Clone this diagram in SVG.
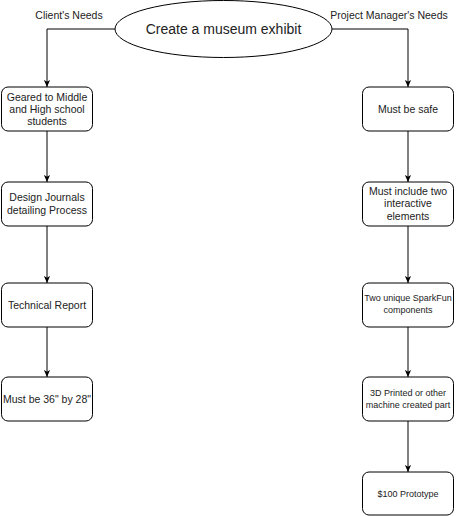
<svg xmlns="http://www.w3.org/2000/svg" width="456" height="516" viewBox="0 0 456 516">
<style>
  .box { fill: #ffffff; stroke: #000000; stroke-width: 1; }
  .t { font-family: "Liberation Sans", Arial, sans-serif; font-size: 10.5px; fill: #222222; text-anchor: middle; }
  .s { font-size: 9px; }
  .title { font-size: 14px; }
  .edge { fill: none; stroke: #000000; stroke-width: 1; marker-end: url(#arr); }
</style>
<defs>
  <marker id="arr" viewBox="0 0 8 8" refX="8" refY="4" markerWidth="7" markerHeight="7" markerUnits="userSpaceOnUse" orient="auto">
    <path d="M0,0.5 L8,4 L0,7.5 L2,4 Z" fill="#000000"/>
  </marker>
</defs>
<rect width="456" height="516" fill="#ffffff"/>

<g id="labels">
  <text class="t" x="69" y="19">Client's Needs</text>
  <text class="t" x="389" y="19">Project Manager's Needs</text>
</g>

<g id="connectors">
  <path class="edge" d="M115,29 H47 V87"/>
  <path class="edge" d="M332,29 H408 V87"/>
  <path class="edge" d="M47,131 V182"/>
  <path class="edge" d="M47,226 V283"/>
  <path class="edge" d="M47,327 V377"/>
  <path class="edge" d="M408,131 V182"/>
  <path class="edge" d="M408,226 V283"/>
  <path class="edge" d="M408,327 V377"/>
  <path class="edge" d="M408,421 V472"/>
</g>

<g id="root">
  <ellipse class="box" cx="223.5" cy="29" rx="108.5" ry="28.5"/>
  <text class="t title" x="223.5" y="34">Create a museum exhibit</text>
</g>

<g id="c1">
  <rect class="box" x="1.5" y="87" width="91" height="44" rx="6.5"/>
  <text class="t" x="47" y="101">Geared to Middle</text>
  <text class="t" x="47" y="113">and High school</text>
  <text class="t" x="47" y="125">students</text>
</g>
<g id="c2">
  <rect class="box" x="1.5" y="182" width="91" height="44" rx="6.5"/>
  <text class="t" x="47" y="200.5">Design Journals</text>
  <text class="t" x="47" y="213.5">detailing Process</text>
</g>
<g id="c3">
  <rect class="box" x="1.5" y="283" width="91" height="44" rx="6.5"/>
  <text class="t" x="47" y="308.5">Technical Report</text>
</g>
<g id="c4">
  <rect class="box" x="1.5" y="377" width="91" height="44" rx="6.5"/>
  <text class="t" x="47" y="402.5">Must be 36" by 28"</text>
</g>

<g id="p1">
  <rect class="box" x="362.5" y="87" width="91" height="44" rx="6.5"/>
  <text class="t" x="408" y="112.5">Must be safe</text>
</g>
<g id="p2">
  <rect class="box" x="362.5" y="182" width="91" height="44" rx="6.5"/>
  <text class="t" x="408" y="195">Must include two</text>
  <text class="t" x="408" y="207">interactive</text>
  <text class="t" x="408" y="219.5">elements</text>
</g>
<g id="p3">
  <rect class="box" x="362.5" y="283" width="91" height="44" rx="6.5"/>
  <text class="t s" x="408" y="301">Two unique SparkFun</text>
  <text class="t s" x="408" y="313">components</text>
</g>
<g id="p4">
  <rect class="box" x="362.5" y="377" width="91" height="44" rx="6.5"/>
  <text class="t s" x="408" y="396">3D Printed or other</text>
  <text class="t s" x="408" y="407.5">machine created part</text>
</g>
<g id="p5">
  <rect class="box" x="362.5" y="472" width="91" height="43" rx="6.5"/>
  <text class="t s" x="408" y="496.5">$100 Prototype</text>
</g>
</svg>
